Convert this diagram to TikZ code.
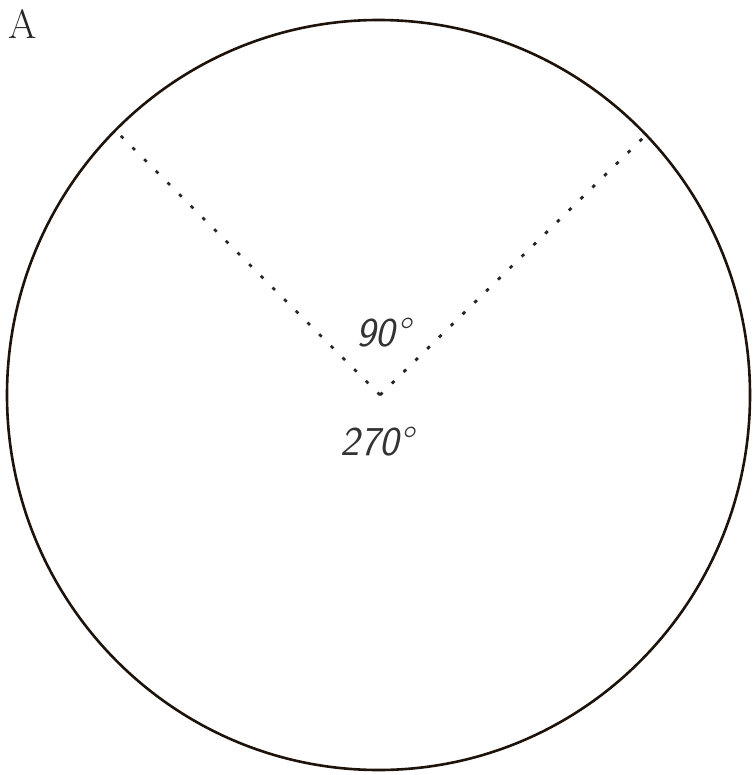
\documentclass[tikz,border=0pt]{standalone}
\usepackage{tikz}
\tikzset{rim/.style={line width=2.6pt,black!85!brown},
 ray/.style={line width=2.8pt,dash pattern=on 3.5pt off 13pt,black!85},
 angle/.style={font=\fontsize{41}{43}\selectfont\sffamily\itshape,text=black!80}}

\begin{document}
\begin{tikzpicture}[x=1pt,y=-1pt]
\useasboundingbox (0,0) rectangle (752,775);
\coordinate (C) at (378.5,395);
\coordinate (V) at (380,395);
\coordinate (L) at (120,135);
\coordinate (R) at (643,138);
\draw[rim] (C) ellipse [x radius=371.5,y radius=375];
\draw[ray] (V)--(L);
\draw[ray] (V)--(R);
\node[angle] (up) at (383,333) {90°};
\node[angle] (down) at (377,442) {270°};
\node[font=\fontsize{41}{43}\selectfont,text=black!85] (lab) at (23,24) {A};
\end{tikzpicture}
\end{document}
